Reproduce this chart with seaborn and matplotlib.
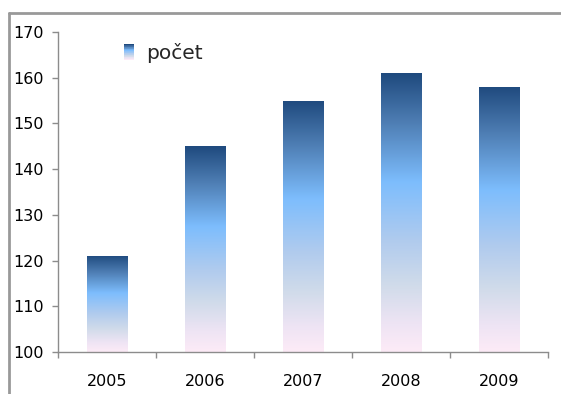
import numpy as np
import pandas as pd
import matplotlib
matplotlib.use("Agg")
import matplotlib.pyplot as plt
from matplotlib.colors import LinearSegmentedColormap
from matplotlib.patches import Rectangle
from matplotlib.legend_handler import HandlerBase
import seaborn as sns

# Data
years = ["2005", "2006", "2007", "2008", "2009"]
counts = [121, 145, 155, 161, 158]
series_name = "počet"
y_ticks = [100, 110, 120, 130, 140, 150, 160, 170]

# Vertical gradient used to fill each bar (top -> bottom)
grad_stops = [
    (0.00, "#1f4a7e"),
    (0.18, "#4f7fb5"),
    (0.39, "#7dbdfd"),
    (0.60, "#b0cbee"),
    (0.76, "#d0dbea"),
    (0.90, "#eee4f4"),
    (1.00, "#fdebf7"),
]
cmap = LinearSegmentedColormap.from_list("bargrad", grad_stops)

sns.set_theme(style="white")
plt.rcParams["font.family"] = ["DejaVu Sans"]

df = pd.DataFrame({"rok": years, series_name: counts})

fig = plt.figure(figsize=(5.61, 3.94), dpi=100)
ax = fig.add_axes([0.1034, 0.1066, 0.8734, 0.8122])

sns.barplot(data=df, x="rok", y=series_name, ax=ax, width=0.41,
            color="#7dbdfd", linewidth=0, saturation=1)

ax.set_ylim(100, 170)
ax.set_xlim(-0.5, len(years) - 0.5)

# Replace the flat fill with a gradient image clipped to each bar
grad = np.linspace(0, 1, 256).reshape(-1, 1)
for patch in ax.patches:
    x0, y0 = patch.get_x(), patch.get_y()
    w, h = patch.get_width(), patch.get_height()
    y_bottom = max(y0, 100)
    top = y0 + h
    im = ax.imshow(grad, cmap=cmap, aspect="auto",
                   extent=[x0, x0 + w, y_bottom, top],
                   origin="upper", zorder=2, interpolation="bilinear")
    im.set_clip_path(patch)
    patch.set_facecolor("none")

ax.set_xlim(-0.5, len(years) - 0.5)
ax.set_ylim(100, 170)
ax.set_yticks(y_ticks)
ax.set_xlabel("")
ax.set_ylabel("")

axis_col = "#8c8c8c"
for side in ["top", "right"]:
    ax.spines[side].set_visible(False)
for side in ["left", "bottom"]:
    ax.spines[side].set_color(axis_col)
    ax.spines[side].set_linewidth(1.0)

# Category ticks sit on the boundaries between categories
ax.set_xticks(np.arange(-0.5, len(years), 1.0), minor=False)
ax.set_xticklabels([""] * (len(years) + 1))
ax.set_xticks(np.arange(len(years)), minor=True)
ax.set_xticklabels(years, minor=True)
ax.tick_params(axis="x", which="major", direction="out", length=4,
               width=1, color=axis_col, bottom=True)
ax.tick_params(axis="x", which="minor", length=0, pad=16,
               labelsize=11.5, labelcolor="black")
ax.tick_params(axis="y", direction="out", length=4, width=1,
               color=axis_col, left=True, pad=6, labelsize=11.5,
               labelcolor="black")


class GradientSwatch(HandlerBase):
    def create_artists(self, legend, orig_handle, xdescent, ydescent,
                       width, height, fontsize, trans):
        n = 24
        arts = []
        for i in range(n):
            c = cmap(i / (n - 1))
            yy = -ydescent + height * (1 - (i + 1) / n)
            r = Rectangle((-xdescent, yy), width, height / n + 0.05,
                          facecolor=c, edgecolor="none", transform=trans)
            arts.append(r)
        return arts


proxy = Rectangle((0, 0), 1, 1)
fig.legend([proxy], [series_name], handler_map={Rectangle: GradientSwatch()},
           loc="upper left", bbox_to_anchor=(0.203, 0.916), frameon=False,
           fontsize=14.5, handlelength=0.5, handleheight=0.85,
           handletextpad=0.6, borderpad=0.0)

# Outer chart frame
fig.add_artist(plt.Line2D([8.5 / 561, 1.0], [1 - 12.5 / 394, 1 - 12.5 / 394],
                          transform=fig.transFigure, color="#999999", lw=2))
fig.add_artist(plt.Line2D([8.5 / 561, 8.5 / 561], [0.0, 1 - 12.5 / 394],
                          transform=fig.transFigure, color="#999999", lw=2))

fig.savefig("out.png", dpi=100, facecolor="white")
